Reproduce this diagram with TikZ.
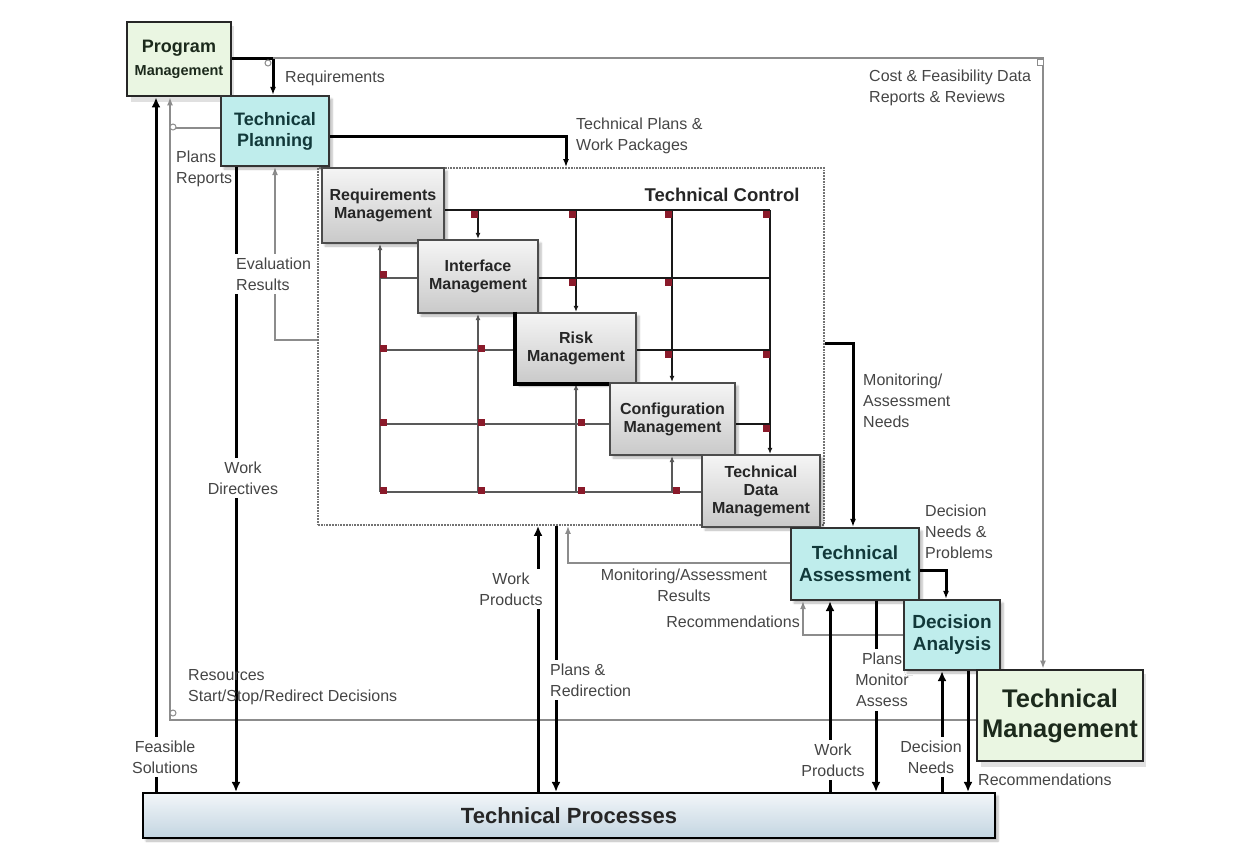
\documentclass[tikz,border=0pt]{standalone}
\usepackage{fontspec}
\setmainfont{Liberation Sans}
\usetikzlibrary{arrows.meta,shadows.blur,calc}

\definecolor{lbltext}{HTML}{454545}
\definecolor{pmgreen}{HTML}{EAF6E2}
\definecolor{cyanfill}{HTML}{BFEDEC}
\definecolor{tealtext}{HTML}{12393A}
\definecolor{greentext}{HTML}{1C2A1C}
\definecolor{gridred}{HTML}{8A1A2A}
\definecolor{linegray}{HTML}{8C8C8C}
\definecolor{procTop}{HTML}{F2F6F9}
\definecolor{procBot}{HTML}{C3D5E1}

\pgfdeclarelayer{bg}
\pgfdeclarelayer{lines}
\pgfdeclarelayer{labels}
\pgfsetlayers{bg,lines,labels,main}

\tikzset{
  sz/.style 2 args={minimum width=#1pt, minimum height=#2pt},
  plainbox/.style={draw=black!85, line width=2.2pt, inner sep=0pt, align=center},
  box/.style={plainbox,
    blur shadow={shadow xshift=3pt, shadow yshift=-3pt, shadow blur steps=6, shadow opacity=28}},
  graybox/.style={box, draw=black!70, top color=gray!8, bottom color=gray!42,
    font=\fontsize{16}{18}\selectfont\bfseries, text=black!85},
  cyanbox/.style={box, draw=black!80, fill=cyanfill,
    font=\fontsize{19}{22}\selectfont\bfseries, text=tealtext},
  greenbox/.style={plainbox, line width=2.8pt, fill=pmgreen, text=greentext},
  softshade/.style={fill=black, opacity=0.12},
  lbl/.style={font=\fontsize{16}{21}\selectfont, text=lbltext, inner sep=2pt},
  gaplabel/.style={lbl, fill=white, inner sep=4pt},
  blk/.style={line width=3pt, black},
  gry/.style={line width=1.8pt, linegray},
  gridup/.style={line width=2.2pt, black!90},
  gridlow/.style={line width=1.5pt, black!65},
  bigarr/.style={-{Latex[length=10pt,width=9pt]}},
  thinarr/.style={-{Latex[length=8pt,width=6pt]}},
  smallarr/.style={-{Latex[length=6pt,width=5pt]}},
  gridsq/.style={rectangle, fill=gridred, inner sep=0pt, minimum size=7pt},
  joint/.style={circle, draw=linegray, line width=1pt, fill=white, minimum size=6pt, inner sep=0pt}
}

\begin{document}
\begin{tikzpicture}[x=1pt,y=-1pt]
\useasboundingbox (0,0) rectangle (1241,846);

% page and frame
\begin{pgfonlayer}{bg}
  \fill[gray!10] (0,0) rectangle (1241,846);
  \filldraw[fill=white, draw=black!65, line width=2pt] (3,7) rectangle (1238,852);
\end{pgfonlayer}

% primes the shadow fading; sits under the process bar and is covered by it
\node[box, draw=none, sz={2}{2}] (shadowprime) at (600,815) {};

% ---------- boxes ----------
\node[greenbox, sz={104}{74}, font=\bfseries] (PM) at (179,59)
  {\fontsize{18}{20}\selectfont Program\\[8pt]\fontsize{14.5}{16}\selectfont Management};
\node[cyanbox, sz={108}{70}, font=\fontsize{18}{21}\selectfont\bfseries] (TP) at (275,131) {Technical\\Planning};

\node[draw=black!55, densely dotted, line width=1.8pt, sz={506}{357}] (TC) at (571,346.5) {};
\node[font=\fontsize{18.5}{20}\selectfont\bfseries, text=black!85, anchor=east] (TCl) at (803,195) {Technical Control};

\node[graybox, sz={122}{75}] (RM) at (383,205.5) {Requirements\\Management};
\node[graybox, sz={120}{73}] (IM) at (478,276.5) {Interface\\Management};
\node[graybox, sz={120}{70}] (RK) at (576,348) {Risk\\Management};
\draw[line width=3.5pt, black] (RK.north west) -- (RK.south west) -- (RK.south east);
\node[graybox, sz={125}{72}] (CM) at (672.5,419) {Configuration\\Management};
\node[graybox, sz={118}{72}] (TD) at (761,491) {Technical\\Data\\Management};
\node[cyanbox, sz={128}{72}] (TA) at (855,564) {Technical\\Assessment};
\node[cyanbox, sz={96}{70}] (DA) at (952,635) {Decision\\Analysis};
\node[greenbox, sz={166}{91}, font=\fontsize{25.5}{30}\selectfont\bfseries] (TM) at (1060,715.5) {Technical\\Management};
\node[box, draw=black, top color=procTop, bottom color=procBot, sz={852}{45},
      font=\fontsize{22}{24}\selectfont\bfseries, text=black!85] (PR) at (569,815.5) {Technical Processes};

% ---------- grid of the technical control functions ----------
\coordinate (c1) at (380,0);
\coordinate (c2) at (478,0);
\coordinate (c3) at (576,0);
\coordinate (c4) at (672,0);
\coordinate (c5) at (770,0);
\coordinate (r1) at (0,210);
\coordinate (r2) at (0,278);
\coordinate (r3) at (0,350);
\coordinate (r4) at (0,424);
\coordinate (r5) at (0,492);

\begin{pgfonlayer}{lines}
  % soft shade behind the two management boxes
  \fill[softshade] ($(PM.north east)+(2,5)$) rectangle ($(PM.south west)+(5,5)$);
  \fill[softshade] ($(TM.north east)+(2,5)$) rectangle ($(TM.south west)+(5,5)$);

  % outputs to the right
  \draw[gridup] (RM.east |- r1) -- (c5 |- r1);
  \draw[gridup] (IM.east |- r2) -- (c5 |- r2);
  \draw[gridup] (RK.east |- r3) -- (c5 |- r3);
  \draw[gridup] (CM.east |- r4) -- (c5 |- r4);
  \draw[gridup, smallarr] (c2 |- r1) -- (c2 |- IM.north);
  \draw[gridup, smallarr] (c3 |- r1) -- (c3 |- RK.north);
  \draw[gridup, smallarr] (c4 |- r1) -- (c4 |- CM.north);
  \draw[gridup, smallarr] (c5 |- r1) -- (c5 |- TD.north);
  % feedback from below and left
  \draw[gridlow] (c1 |- r2) -- (IM.west |- r2);
  \draw[gridlow] (c1 |- r3) -- (RK.west |- r3);
  \draw[gridlow] (c1 |- r4) -- (CM.west |- r4);
  \draw[gridlow] (c1 |- r5) -- (TD.west |- r5);
  \draw[gridlow, smallarr] (c1 |- r5) -- (c1 |- RM.south);
  \draw[gridlow, smallarr] (c2 |- r5) -- (c2 |- IM.south);
  \draw[gridlow, smallarr] (c3 |- r5) -- (c3 |- RK.south);
  \draw[gridlow, smallarr] (c4 |- r5) -- (c4 |- CM.south);

  % junction marks
  \foreach \c/\r/\dx/\dy [count=\i] in {c2/r1/-4/4, c3/r1/-4/4, c4/r1/-4/4, c5/r1/-4/4,
      c3/r2/-4/4, c4/r2/-4/4, c4/r3/-4/4, c5/r3/-4/4, c5/r4/-4/4}
    \node[gridsq] (mu\i) at ($(\c |- \r)+(\dx,\dy)$) {};
  \foreach \c/\r/\dx/\dy [count=\i] in {c1/r2/3/-4, c1/r3/3/-2, c2/r3/3/-2, c1/r4/3/-2,
      c2/r4/3/-2, c3/r4/5/-2, c1/r5/3/-2, c2/r5/3/-2, c3/r5/5/-2, c4/r5/4/-2}
    \node[gridsq] (ml\i) at ($(\c |- \r)+(\dx,\dy)$) {};

  % ---------- flows between the processes ----------
  \coordinate (rq) at (273,58);
  \coordinate (cf) at (1043,58);
  \draw[blk, thinarr] (PM.east |- rq) -- (rq) -- (rq |- TP.north);
  \draw[gry, thinarr] (rq) -- (cf) -- (cf |- TM.north);

  \coordinate (fs) at (156,0);
  \draw[blk, bigarr] (fs |- PR.north) -- (fs |- PM.south);

  \coordinate (rs) at (170,720);
  \draw[gry, thinarr] (TM.west |- rs) -- (rs) -- (rs |- PM.south);
  \coordinate (pl) at (170,128);
  \draw[gry] (TP.west |- pl) -- (pl);

  \coordinate (wd) at (236,0);
  \draw[blk, bigarr] (wd |- TP.south) -- (wd |- PR.north);

  \coordinate (ev) at (275,340);
  \draw[gry, thinarr] (TC.west |- ev) -- (ev) -- (ev |- TP.south);

  \coordinate (tw) at (566,136);
  \draw[blk, thinarr] (TP.east |- tw) -- (tw) -- (tw |- TC.north);

  \coordinate (mn) at (853,343);
  \draw[blk, thinarr] (TC.east |- mn) -- (mn) -- (mn |- TA.north);

  \coordinate (dn) at (946,570);
  \draw[blk, thinarr] (TA.east |- dn) -- (dn) -- (dn |- DA.north);

  \coordinate (rc) at (803,635);
  \draw[gry, thinarr] (DA.west |- rc) -- (rc) -- (rc |- TA.south);

  \coordinate (mr) at (568,563);
  \draw[gry, thinarr] (TA.west |- mr) -- (mr) -- (mr |- TC.south);

  \coordinate (wp) at (538,0);
  \draw[blk, bigarr] (wp |- PR.north) -- (wp |- TC.south);
  \coordinate (pr) at (556,0);
  \draw[blk, bigarr] (pr |- TC.south) -- (pr |- PR.north);

  \coordinate (wr) at (830,0);
  \draw[blk, bigarr] (wr |- PR.north) -- (wr |- TA.south);
  \coordinate (pm) at (876,0);
  \draw[blk, bigarr] (pm |- TA.south) -- (pm |- PR.north);
  \coordinate (dd) at (942,0);
  \draw[blk, bigarr] (dd |- PR.north) -- (dd |- DA.south);
  \coordinate (rr) at (968,0);
  \draw[blk, bigarr] (rr |- DA.south) -- (rr |- PR.north);

  % connection points
  \node[joint] (j1) at (268,63) {};
  \node[joint] (j2) at (173,127) {};
  \node[joint] (j3) at (173,713) {};
  \node[joint, rectangle] (j4) at (1040,62) {};
\end{pgfonlayer}

% ---------- labels ----------
\begin{pgfonlayer}{labels}
  \node[lbl, anchor=west] (lReq) at (283,78) {Requirements};
  \node[lbl, anchor=west, align=left] (lCost) at (867,88) {Cost \& Feasibility Data\\Reports \& Reviews};
  \node[lbl, anchor=west, align=left] (lTPW) at (574,136) {Technical Plans \&\\Work Packages};
  \node[lbl, anchor=west, align=left] (lPlR) at (174,169) {Plans\\Reports};
  \node[gaplabel, anchor=west, align=left] (lEval) at (232,274) {Evaluation\\Results};
  \node[gaplabel, align=center] (lWD) at (243,478) {Work\\Directives};
  \node[lbl, anchor=west, align=left] (lRes) at (186,687) {Resources\\Start/Stop/Redirect Decisions};
  \node[gaplabel, align=center] (lFS) at (165,757) {Feasible\\Solutions};
  \node[gaplabel, align=center] (lWP) at (511,589) {Work\\Products};
  \node[gaplabel, anchor=west, align=left] (lPRd) at (546,680) {Plans \&\\Redirection};
  \node[lbl, align=center] (lMR) at (684,585) {Monitoring/Assessment\\Results};
  \node[lbl, anchor=east] (lRec) at (802,622) {Recommendations};
  \node[lbl, anchor=west, align=left] (lMN) at (861,401) {Monitoring/\\Assessment\\Needs};
  \node[lbl, anchor=west, align=left] (lDN) at (923,532) {Decision\\Needs \&\\Problems};
  \node[gaplabel, align=center] (lPMA) at (882,680) {Plans\\Monitor\\Assess};
  \node[gaplabel, align=center] (lWP2) at (833,760) {Work\\Products};
  \node[gaplabel, align=center] (lDec) at (931,757) {Decision\\Needs};
  \node[lbl, anchor=west] (lRec2) at (976,780) {Recommendations};
\end{pgfonlayer}

\end{tikzpicture}
\end{document}
